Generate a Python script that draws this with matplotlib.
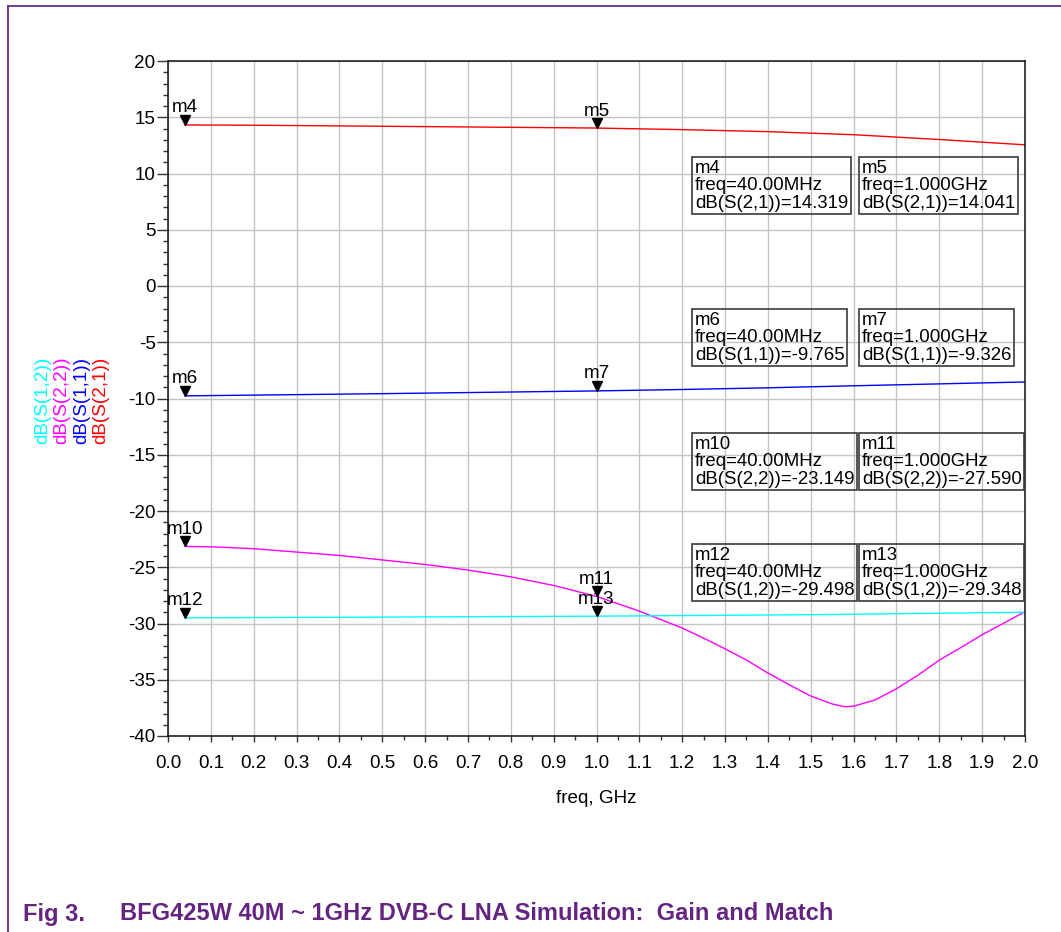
import matplotlib
matplotlib.use("Agg")
import matplotlib.pyplot as plt
from matplotlib.ticker import MultipleLocator
from matplotlib.transforms import offset_copy
from matplotlib.lines import Line2D

plt.rcParams['font.family'] = ['Liberation Sans', 'DejaVu Sans']

# ---------------- data ----------------
freq_s21 = [0.04, 0.2, 0.5, 1.0, 1.2, 1.4, 1.6, 1.8, 2.0]
db_s21 = [14.319, 14.29, 14.20, 14.041, 13.90, 13.72, 13.45, 13.02, 12.55]

freq_s11 = [0.04, 0.2, 0.5, 1.0, 1.2, 1.4, 1.6, 1.8, 2.0]
db_s11 = [-9.765, -9.70, -9.57, -9.326, -9.20, -9.05, -8.87, -8.70, -8.53]

freq_s22 = [0.04, 0.1, 0.2, 0.3, 0.4, 0.5, 0.6, 0.7, 0.8, 0.9, 1.0, 1.1, 1.2,
            1.25, 1.3, 1.35, 1.4, 1.45, 1.5, 1.55, 1.58, 1.6, 1.65, 1.7,
            1.75, 1.8, 1.85, 1.9, 1.95, 2.0]
db_s22 = [-23.149, -23.18, -23.35, -23.65, -23.95, -24.35, -24.75, -25.25,
          -25.85, -26.62, -27.590, -28.90, -30.40, -31.30, -32.25, -33.25,
          -34.40, -35.45, -36.45, -37.15, -37.40, -37.35, -36.80, -35.80,
          -34.60, -33.25, -32.15, -31.00, -29.98, -28.95]

freq_s12 = [0.04, 0.5, 1.0, 1.5, 2.0]
db_s12 = [-29.498, -29.43, -29.348, -29.22, -29.00]

series_labels = ['dB(S(1,2))', 'dB(S(2,2))', 'dB(S(1,1))', 'dB(S(2,1))']
series_colors = ['#00ffff', '#ff00ff', '#0000ff', '#ff0000']

marker_names = ['m4', 'm5', 'm6', 'm7', 'm10', 'm11', 'm12', 'm13']
marker_freq = [0.04, 1.0, 0.04, 1.0, 0.04, 1.0, 0.04, 1.0]
marker_freq_text = ['40.00MHz', '1.000GHz'] * 4
marker_expr = ['dB(S(2,1))', 'dB(S(2,1))', 'dB(S(1,1))', 'dB(S(1,1))',
               'dB(S(2,2))', 'dB(S(2,2))', 'dB(S(1,2))', 'dB(S(1,2))']
marker_value = [14.319, 14.041, -9.765, -9.326, -23.149, -27.590, -29.498, -29.348]

x_ticks = [round(0.1 * i, 1) for i in range(21)]
y_ticks = [-40, -35, -30, -25, -20, -15, -10, -5, 0, 5, 10, 15, 20]

caption_num = 'Fig 3.'
caption_text = 'BFG425W 40M ~ 1GHz DVB-C LNA Simulation:  Gain and Match'

# ---------------- layout ----------------
W, H = 1061, 932
fig = plt.figure(figsize=(W / 100, H / 100), dpi=100)

def fx(px):
    return px / W

def fy(py):
    return 1 - py / H

ax = fig.add_axes([fx(168), fy(736), fx(1025) - fx(168), fy(61) - fy(736)])

fs = 13.6
ax.plot(freq_s21, db_s21, color=series_colors[3], lw=1.0)
ax.plot(freq_s11, db_s11, color=series_colors[2], lw=1.0)
ax.plot(freq_s22, db_s22, color=series_colors[1], lw=1.0)
ax.plot(freq_s12, db_s12, color=series_colors[0], lw=1.0)

ax.set_xlim(0, 2.0)
ax.set_ylim(-40, 20)
ax.set_xticks(x_ticks)
ax.set_xticklabels([f'{t:.1f}' for t in x_ticks])
ax.set_yticks(y_ticks)
ax.set_yticklabels([str(t) for t in y_ticks])
ax.xaxis.set_minor_locator(MultipleLocator(0.05))
ax.yaxis.set_minor_locator(MultipleLocator(1))
ax.grid(True, which='major', color='#c4c4c4', lw=1.0)
ax.set_axisbelow(True)
ax.tick_params(axis='both', which='major', labelsize=fs, color='#333333', width=1.0)
ax.tick_params(axis='y', which='major', length=8, pad=1)
ax.tick_params(axis='y', which='minor', length=3.6, width=1.0, color='#333333')
ax.tick_params(axis='x', which='major', length=4.5, pad=9)
ax.tick_params(axis='x', which='minor', length=3, width=1.0, color='#333333')
for sp in ax.spines.values():
    sp.set_color('#111111')
    sp.set_linewidth(1.1)

ax.set_xlabel('freq, GHz', fontsize=fs, labelpad=13)

# colored stacked y labels
ylab_x = [43, 62, 82, 101]
for lab, col, px in zip(series_labels, series_colors, ylab_x):
    fig.text(fx(px), fy(400), lab, color=col, rotation=90, fontsize=fs,
             ha='center', va='center')

# markers
ms = 7.5
tri_tr = offset_copy(ax.transData, fig=fig, x=0, y=ms / 2, units='points')
for name, f, v in zip(marker_names, marker_freq, marker_value):
    ax.plot([f], [v], marker='v', ms=ms, color='black', transform=tri_tr,
            clip_on=False, zorder=5)
    ax.annotate(name, xy=(f, v), xytext=(0, ms + 1.5), textcoords='offset points',
                ha='center', va='baseline', fontsize=fs, zorder=6)

# readout boxes
box_left = [695, 862]
box_top = [160, 312, 436, 547]
for i, (name, ft, expr, v) in enumerate(zip(marker_names, marker_freq_text,
                                            marker_expr, marker_value)):
    col = i % 2
    row = i // 2
    txt = f'{name}\nfreq={ft}\n{expr}={v:.3f}'
    fig.text(fx(box_left[col]), fy(box_top[row]), txt, fontsize=13.4,
             ha='left', va='top', linespacing=1.02,
             bbox=dict(boxstyle='square,pad=0.14', fc='none', ec='#3a3a3a', lw=1.2))

# page frame (top and left lines)
purple = '#64247f'
fig.add_artist(Line2D([fx(8), 1.0], [fy(6), fy(6)], color='#6b2b8f', lw=1.3,
                      transform=fig.transFigure))
fig.add_artist(Line2D([fx(8), fx(8)], [fy(6), 0.0], color='#6b2b8f', lw=1.3,
                      transform=fig.transFigure))

# caption
fig.text(fx(23), fy(914), caption_num, color=purple, fontsize=17,
         fontweight='bold', ha='left', va='center')
fig.text(fx(120), fy(914), caption_text, color=purple, fontsize=17,
         fontweight='bold', ha='left', va='center')

fig.savefig('out.png', dpi=100)
